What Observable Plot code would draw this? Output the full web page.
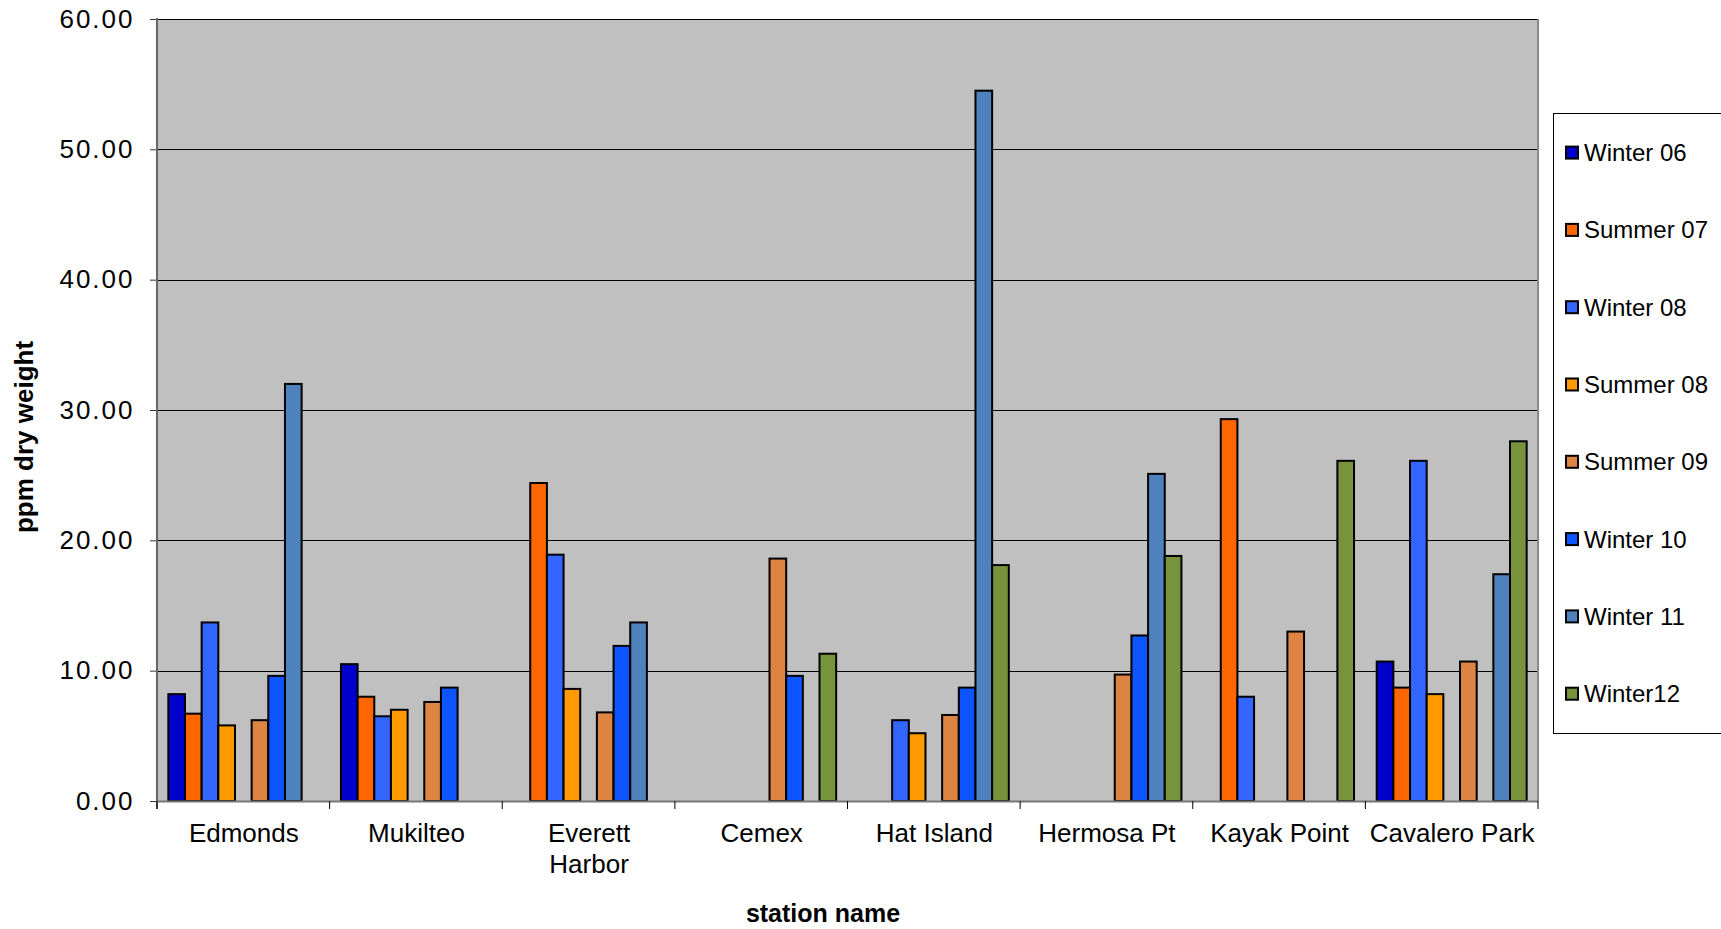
<!DOCTYPE html>
<html><head><meta charset="utf-8">
<script src="https://cdn.jsdelivr.net/npm/d3@7"></script>
<script src="https://cdn.jsdelivr.net/npm/@observablehq/plot@0.6"></script>
<style>
body{margin:0;background:#fff;}
g[aria-label="y-axis tick label"] text{letter-spacing:2px;}
</style>
</head><body><div id="chart"></div>
<script>
const stations = ["Edmonds","Mukilteo","Everett Harbor","Cemex","Hat Island","Hermosa Pt","Kayak Point","Cavalero Park"];
const stationLabels = ["Edmonds","Mukilteo","Everett\nHarbor","Cemex","Hat Island","Hermosa Pt","Kayak Point","Cavalero Park"];
const seriesNames = ["Winter 06","Summer 07","Winter 08","Summer 08","Summer 09","Winter 10","Winter 11","Winter12"];
const seriesColors = ["#0000CC","#FF6600","#3366FF","#FF9900","#DD8443","#0D55FF","#4F81BD","#77933C"];
// values in station order; null = no sample
const winter06 = [8.2, 10.5, null, null, null, null, null, 10.7];
const summer07 = [6.7, 8.0, 24.4, null, null, null, 29.3, 8.7];
const winter08 = [13.7, 6.5, 18.9, null, 6.2, null, 8.0, 26.1];
const summer08 = [5.8, 7.0, 8.6, null, 5.2, null, null, 8.2];
const summer09 = [6.2, 7.6, 6.8, 18.6, 6.6, 9.7, 13.0, 10.7];
const winter10 = [9.6, 8.7, 11.9, 9.6, 8.7, 12.7, null, null];
const winter11 = [32.0, null, 13.7, null, 54.5, 25.1, null, 17.4];
const winter12 = [null, null, null, 11.3, 18.1, 18.8, 26.1, 27.6];
const yTicks = [0, 10, 20, 30, 40, 50, 60];

const seriesValues = [winter06, summer07, winter08, summer08, summer09, winter10, winter11, winter12];
const rows = [];
seriesValues.forEach((vals, k) => vals.forEach((v, i) => {
  if (v != null) rows.push({station: stations[i], series: seriesNames[k], value: v});
}));
// an empty slot sits between Summer 08 and Summer 09 in each group
const slots = [...seriesNames.slice(0, 4), "\u00a0", ...seriesNames.slice(4)];
const FONT = "'Liberation Sans', Arial, sans-serif";

const plot = Plot.plot({
  width: 1721, height: 929,
  marginLeft: 157, marginRight: 183, marginTop: 19, marginBottom: 128,
  style: {fontFamily: FONT, background: "#fff", color: "#000"},
  fx: {domain: stations, padding: 0, label: null, round: false},
  x: {domain: slots, paddingInner: 0, paddingOuter: 0.68, round: false, axis: null},
  y: {domain: [0, 60], label: null},
  color: {domain: seriesNames, range: seriesColors},
  marks: [
    Plot.frame({fill: "#c0c0c0", stroke: "none", shapeRendering: "crispEdges"}),
    Plot.ruleY(yTicks.slice(1), {stroke: "#000", strokeWidth: 1, shapeRendering: "crispEdges"}),
    Plot.barY(rows, {fx: "station", x: "series", y: "value", fill: "series", stroke: "#000", strokeWidth: 2}),
    Plot.ruleY([0], {stroke: "#777", strokeWidth: 2}),
    Plot.axisY({ticks: yTicks, tickFormat: d3.format(".2f"), tickSize: 7, tickPadding: 16, fontSize: 26, label: null, stroke: "#333"}),
    Plot.axisFx({anchor: "bottom", tickSize: 0, tickPadding: 19, fontSize: 26, lineHeight: 1.18, label: null,
      tickFormat: d => stationLabels[stations.indexOf(d)]})
  ]
});
document.getElementById("chart").appendChild(plot);

const fx = plot.scale("fx"), y = plot.scale("y");
const svg = d3.select(plot);
const x0 = fx.range[0], x1 = fx.range[1];
const yb = y.apply(0), yt = y.apply(60);
const g = svg.append("g");
g.append("line").attr("x1", x0).attr("x2", x0).attr("y1", yt - 1).attr("y2", yb + 8).attr("stroke", "#666").attr("stroke-width", 2);
g.append("line").attr("x1", x1).attr("x2", x1).attr("y1", yt).attr("y2", yb).attr("stroke", "#888").attr("stroke-width", 2);
[...stations.map(s => fx.apply(s)), x1].forEach(xx => {
  g.append("line").attr("x1", xx).attr("x2", xx).attr("y1", yb).attr("y2", yb + 8).attr("stroke", "#000").attr("stroke-width", 1);
});
// axis titles
svg.append("text").attr("transform", "translate(24,437) rotate(-90)").attr("text-anchor", "middle").attr("dy", "0.35em")
  .attr("font-family", FONT).attr("font-weight", "bold").attr("font-size", 26).text("ppm dry weight");
svg.append("text").attr("x", 823).attr("y", 913).attr("text-anchor", "middle").attr("dy", "0.35em")
  .attr("font-family", FONT).attr("font-weight", "bold").attr("font-size", 25).text("station name");
// legend
const lg = svg.append("g").attr("text-anchor", "start");
lg.append("rect").attr("x", 1553.5).attr("y", 113.5).attr("width", 200).attr("height", 620).attr("fill", "#fff").attr("stroke", "#000");
seriesNames.forEach((name, k) => {
  const cy = 152.6 + k * 77.3;
  lg.append("rect").attr("x", 1566).attr("y", cy - 6).attr("width", 12).attr("height", 12)
    .attr("fill", seriesColors[k]).attr("stroke", "#000").attr("stroke-width", 2);
  lg.append("text").attr("x", 1584).attr("y", cy).attr("dy", "0.35em").attr("text-anchor", "start").attr("font-family", FONT)
    .attr("font-size", 24).text(name);
});
</script>
</body></html>
